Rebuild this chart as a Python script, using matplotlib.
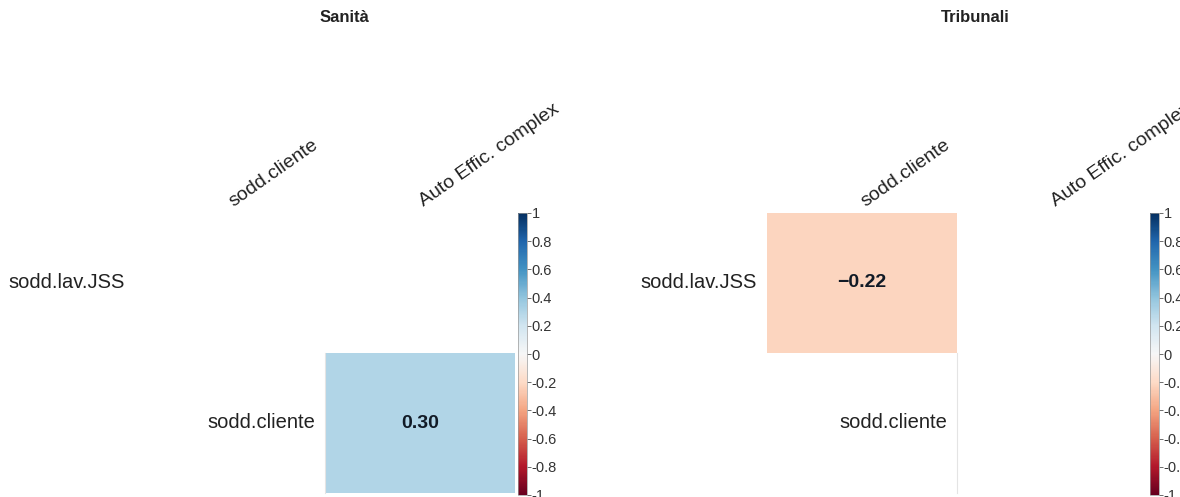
import numpy as np
import matplotlib
matplotlib.use("Agg")
import matplotlib.pyplot as plt

# correlation matrix (upper triangle, no diagonal); nan = not significant -> blank
row_labels = ["sodd.lav.JSS", "sodd.cliente"]
col_labels = ["sodd.cliente", "Auto Effic. complex"]
panel_titles = ["Sanità", "Tribunali"]
sanita_r = [[np.nan, np.nan],
            [np.nan, 0.30]]
tribunali_r = [[-0.22, np.nan],
               [np.nan, np.nan]]
cbar_ticks = [-1, -0.8, -0.6, -0.4, -0.2, 0, 0.2, 0.4, 0.6, 0.8, 1]
cbar_labels = ["-1", "-0.8", "-0.6", "-0.4", "-0.2", "0", "0.2", "0.4", "0.6", "0.8", "1"]

plt.rcParams['font.family'] = ['Liberation Sans', 'DejaVu Sans']

W, H = 1180, 497
fig = plt.figure(figsize=(W / 100, H / 100), dpi=100)


def px_axes(x0, y0, x1, y1):
    # axes from pixel box (y measured from top)
    return fig.add_axes([x0 / W, (H - y1) / H, (x1 - x0) / W, (y1 - y0) / H])


def draw_panel(r, title, gx, title_x):
    ax = px_axes(gx, 213, gx + 380, 493)
    data = np.ma.masked_invalid(np.array(r, dtype=float))
    mesh = ax.pcolormesh(data, cmap='RdBu', vmin=-1, vmax=1)
    ax.set_xlim(0, 2)
    ax.set_ylim(2, 0)
    ax.axis('off')

    # faint grid border of the blank lower cell
    ax.plot([1, 1], [1, 2], color='#e4e4e4', lw=0.8, clip_on=False)

    # numbers in coloured cells
    for i in range(2):
        for j in range(2):
            v = data[i, j]
            if v is not np.ma.masked:
                ax.text(j + 0.5, i + 0.5, f"{v:.2f}".replace("-", "\u2212"),
                        ha='center', va='center', fontsize=14,
                        fontweight='bold', color='#111a26')

    # row labels: left of the first cell of each row (upper triangle)
    for i, lab in enumerate(row_labels):
        ax.annotate(lab, xy=(i, i + 0.5), xytext=(-7, 0), textcoords='offset points',
                    ha='right', va='center', fontsize=14.5, color='#222222',
                    annotation_clip=False)

    # column labels, rotated
    for j, lab in enumerate(col_labels):
        ax.annotate(lab, xy=(j + 0.5, 0), xytext=(4, 2), textcoords='offset points',
                    ha='left', va='bottom', rotation=35, rotation_mode='anchor',
                    fontsize=14, color='#222222', annotation_clip=False)

    # colour legend
    cax = px_axes(gx + 383, 213, gx + 392, 495)
    cb = fig.colorbar(mesh, cax=cax, ticks=cbar_ticks)
    cb.ax.set_yticklabels(cbar_labels)
    cb.ax.tick_params(length=3, width=0.6, color='#555555', pad=0.5,
                      labelsize=10.5, labelcolor='#333333')
    cb.outline.set_linewidth(0.5)
    cb.outline.set_edgecolor('#999999')

    fig.text(title_x / W, 1 - 18 / H, title, ha='center', va='center',
             fontsize=12, fontweight='bold', color='#222222')


draw_panel(sanita_r, panel_titles[0], 135, 344)
draw_panel(tribunali_r, panel_titles[1], 767, 975)

fig.savefig("out.png", dpi=100, facecolor='white')
